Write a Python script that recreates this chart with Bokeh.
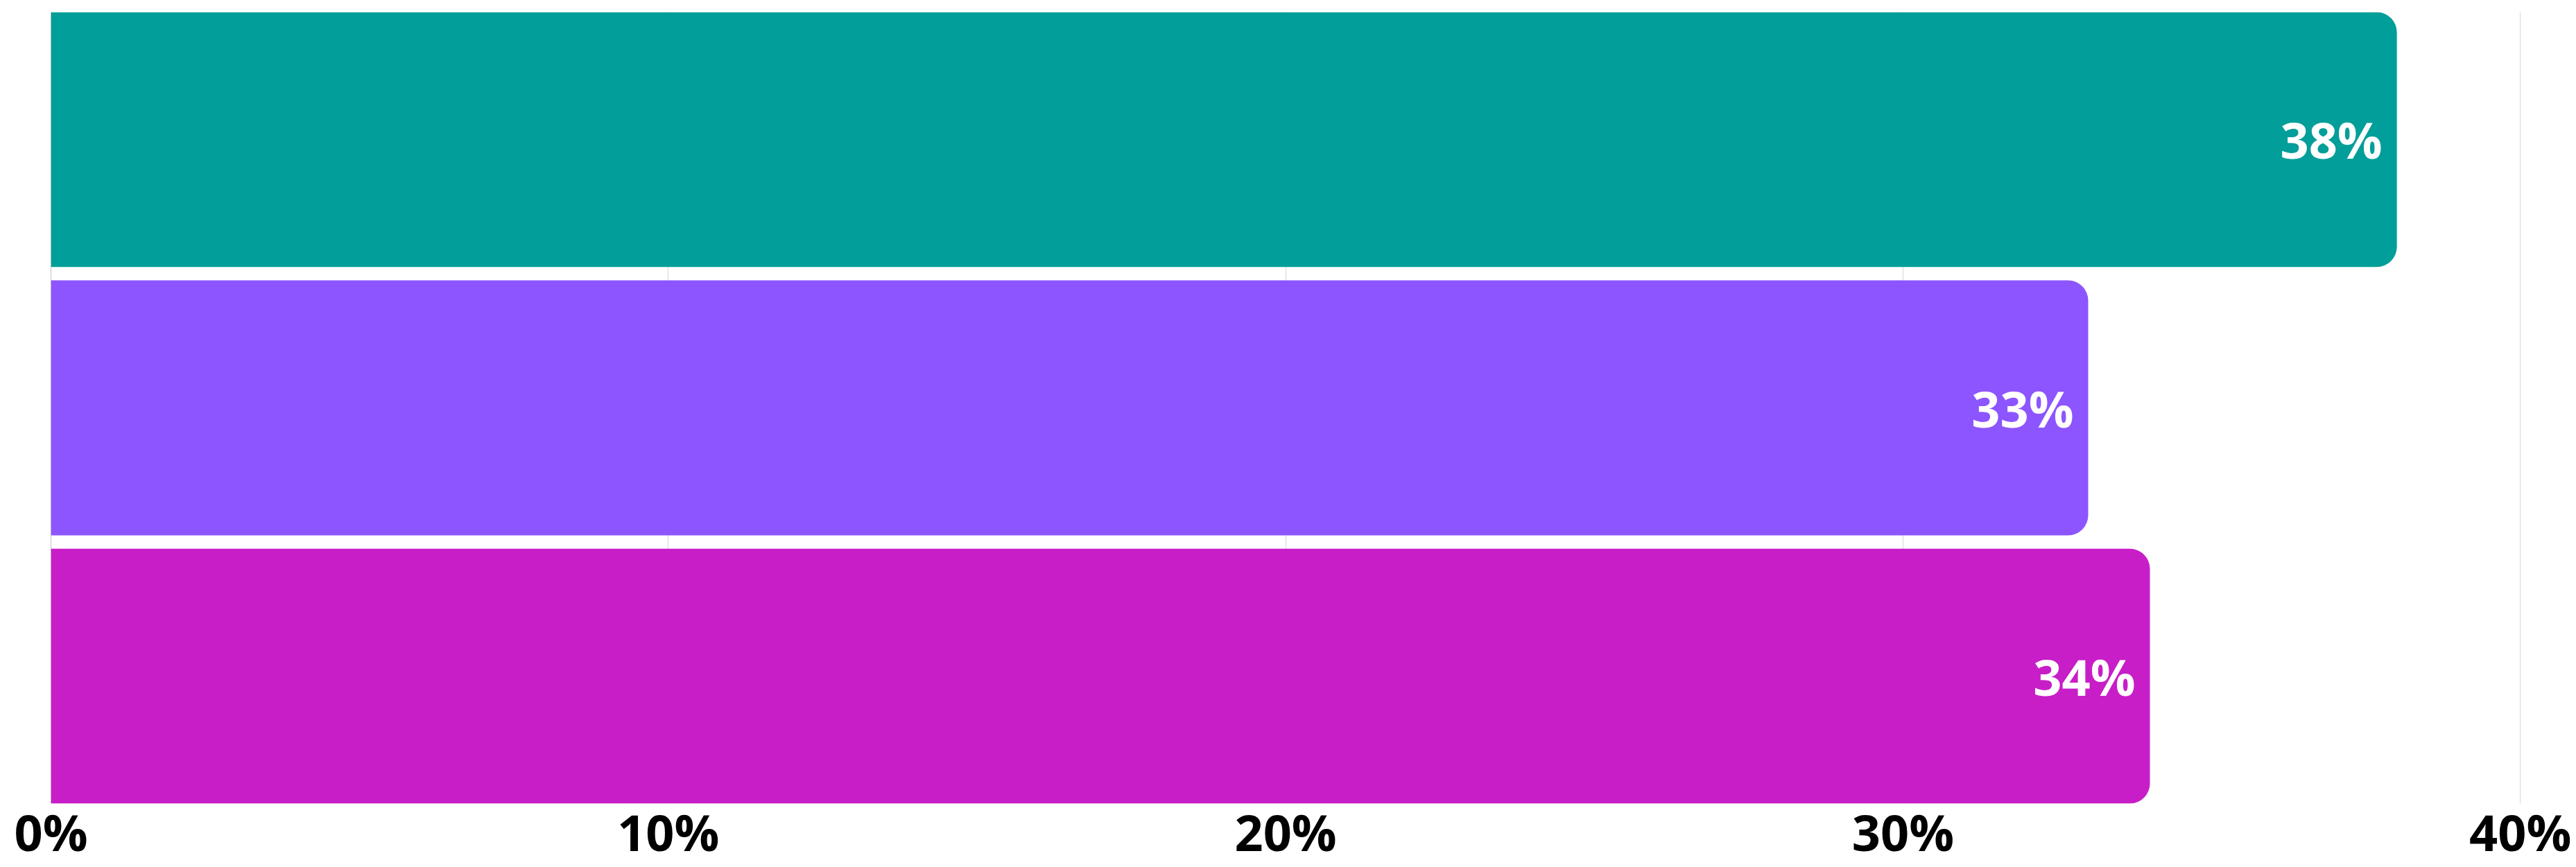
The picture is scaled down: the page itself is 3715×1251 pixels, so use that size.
from bokeh.plotting import figure
from bokeh.models import Range1d, FixedTicker, Span, ColumnDataSource
from bokeh.core.properties import value
from bokeh.embed import file_html
from bokeh.resources import INLINE

# ---- data ----
values = [38, 33, 34]
bar_labels = ["38%", "33%", "34%"]
bar_colors = ["#029E99", "#8C55FF", "#C81EC8"]
tick_values = [0, 10, 20, 30, 40]
tick_labels = ["0%", "10%", "20%", "30%", "40%"]

positions = list(range(len(values)))
src = ColumnDataSource(dict(y=positions, v=values, lab=bar_labels, c=bar_colors))

p = figure(width=3715, height=1251, output_backend="svg", toolbar_location=None,
           x_range=Range1d(0, 40.02), y_range=Range1d(len(values) - 0.525, -0.475),
           min_border_left=73, min_border_right=79, min_border_top=17, min_border_bottom=0)
p.outline_line_color = None
p.background_fill_color = "white"

p.hbar(y="y", left=0, right="v", height=0.95, fill_color="c", line_color=None,
       border_radius=(0, 29, 29, 0), source=src)

p.text(x="v", y="y", text="lab", x_offset=-21, y_offset=0, text_align="right",
       text_baseline="middle", text_color="white", text_font=value("Open Sans"),
       text_font_style="bold", text_font_size="72px", source=src)

p.add_layout(Span(location=0, dimension="height", line_color="#8a8a8a", line_width=1,
                  level="underlay"))

p.yaxis.visible = False
p.ygrid.grid_line_color = None
p.xgrid.ticker = FixedTicker(ticks=tick_values)
p.xgrid.grid_line_color = "#d6d6d6"
p.xgrid.grid_line_width = 1
p.xgrid.level = "underlay"

ax = p.xaxis[0]
ax.ticker = FixedTicker(ticks=tick_values)
ax.major_label_overrides = {t: l for t, l in zip(tick_values, tick_labels)}
ax.axis_line_color = None
ax.major_tick_line_color = None
ax.minor_tick_line_color = None
ax.major_tick_out = 0
ax.major_label_standoff = -9
ax.major_label_text_font = "Open Sans"
ax.major_label_text_font_style = "bold"
ax.major_label_text_font_size = "72px"
ax.major_label_text_color = "black"

open("out.html", "w").write(file_html(p, INLINE))
